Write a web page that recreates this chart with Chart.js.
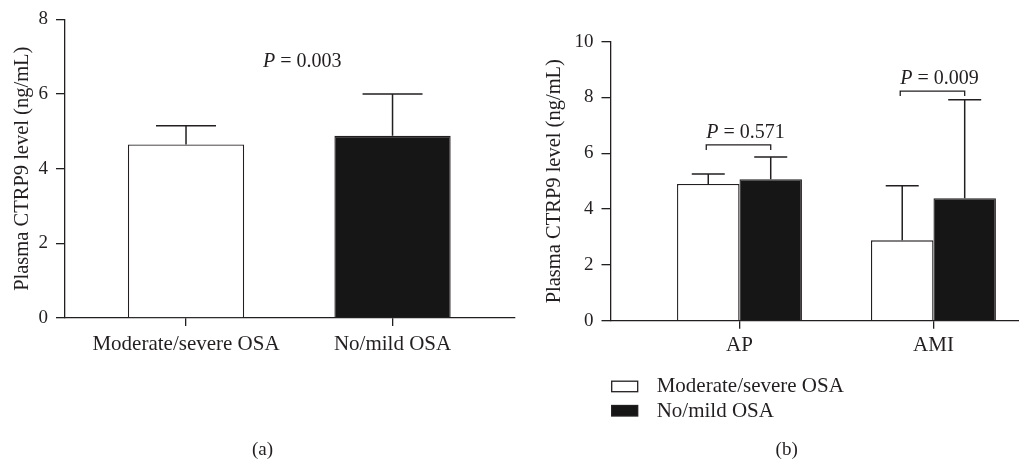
<!DOCTYPE html>
<html><head><meta charset="utf-8">
<script src="https://cdn.jsdelivr.net/npm/chart.js@4.4.1/dist/chart.umd.min.js"></script>
<style>
html,body{margin:0;padding:0;background:#fff;}
#wrap{position:relative;width:1019px;height:460px;overflow:hidden;background:#fff;}
canvas{position:absolute;top:0;}
</style></head><body>
<div id="wrap">
<canvas id="ca" width="520" height="460" style="left:0;width:520px;height:460px"></canvas>
<canvas id="cb" width="499" height="460" style="left:520px;width:499px;height:460px"></canvas>
</div>
<script>
// ---------- Panel (a) data ----------
const catsA = ['Moderate/severe OSA', 'No/mild OSA'];
const meanA = [4.65, 4.88];
const sdA = [0.50, 1.12];
const yTicksA = [0, 2, 4, 6, 8];
const pValueA = '0.003';

// ---------- Panel (b) data ----------
const catsB = ['AP', 'AMI'];
const seriesNames = ['Moderate/severe OSA', 'No/mild OSA'];
const meanModSev = [4.90, 2.88];
const sdModSev = [0.36, 1.96];
const meanNoMild = [5.07, 4.39];
const sdNoMild = [0.80, 3.53];
const yTicksB = [0, 2, 4, 6, 8, 10];
const pValuesB = ['0.571', '0.009'];
const bracketLevelB = [6.30, 8.23];

const FONT = "'Liberation Serif', 'DejaVu Serif', serif";
const TXT = '#231f20';
const AX = '#231f20';
const BLACK = '#161616';
const Y_TITLE = 'Plasma CTRP9 level (ng/mL)';

function drawP(ctx, x, y, p, size) {
  ctx.save();
  ctx.fillStyle = TXT;
  ctx.textBaseline = 'middle';
  ctx.textAlign = 'left';
  ctx.font = 'italic ' + size + 'px ' + FONT;
  ctx.fillText('P', x, y);
  const w = ctx.measureText('P').width;
  ctx.font = size + 'px ' + FONT;
  ctx.fillText(' = ' + p, x + w, y);
  ctx.restore();
}

const errorBars = {
  id: 'errorBars',
  afterDatasetsDraw(chart, args, opts) {
    const ctx = chart.ctx, ys = chart.scales.y;
    ctx.save();
    ctx.strokeStyle = AX;
    ctx.lineWidth = 1.5;
    chart.data.datasets.forEach((ds, di) => {
      const meta = chart.getDatasetMeta(di);
      meta.data.forEach((bar, i) => {
        const v = ds.data[i].y + ds.errors[i];
        const top = ys.getPixelForValue(v);
        ctx.beginPath();
        ctx.moveTo(bar.x, bar.y);
        ctx.lineTo(bar.x, top);
        ctx.moveTo(bar.x - opts.cap, top);
        ctx.lineTo(bar.x + opts.cap, top);
        ctx.stroke();
      });
    });
    ctx.restore();
  }
};

const caption = {
  id: 'caption',
  afterDraw(chart, args, opts) {
    const ctx = chart.ctx;
    ctx.save();
    ctx.fillStyle = TXT;
    ctx.font = '19px ' + FONT;
    ctx.textAlign = 'center';
    ctx.textBaseline = 'middle';
    ctx.fillText(opts.text, opts.x, opts.y);
    ctx.restore();
  }
};

function yScale(ticksArr, width, titlePad) {
  return {
    min: ticksArr[0], max: ticksArr[ticksArr.length - 1],
    afterBuildTicks: s => { s.ticks = ticksArr.map(v => ({value: v})); },
    afterFit: s => { s.width = width; },
    border: {display: true, color: AX, width: 1.3},
    grid: {drawOnChartArea: false, drawTicks: true, tickLength: 9, color: AX, lineWidth: 1.3},
    ticks: {font: {family: FONT, size: 19}, color: TXT, padding: 8},
    title: {display: true, text: Y_TITLE, font: {family: FONT, size: 20.5}, color: TXT,
            padding: {top: titlePad, bottom: 0}}
  };
}

function xScale(cats, min, max, pad) {
  return {
    type: 'linear', min: min, max: max, offset: false,
    afterBuildTicks: s => { s.ticks = cats.map((c, i) => ({value: i})); },
    afterFit: s => { s.height = 50; },
    border: {display: true, color: AX, width: 1.3},
    grid: {offset: false, drawOnChartArea: false, drawTicks: true, tickLength: 8, color: AX, lineWidth: 1.3},
    ticks: {callback: v => cats[v], font: {family: FONT, size: 21}, color: TXT, padding: pad,
            maxRotation: 0, minRotation: 0, autoSkip: false}
  };
}

// ---------- Chart (a) ----------
const pA = {
  id: 'pA',
  afterDraw(chart, args, opts) {
    const x = chart.scales.x.getPixelForValue(opts.x);
    const y = chart.scales.y.getPixelForValue(opts.y);
    drawP(chart.ctx, x, y, pValueA, 20);
  }
};

new Chart(document.getElementById('ca'), {
  type: 'bar',
  data: {
    datasets: [{
      label: 'Plasma CTRP9',
      data: catsA.map((c, i) => ({x: i, y: meanA[i]})),
      errors: sdA,
      backgroundColor: ['#ffffff', BLACK],
      borderColor: AX,
      borderWidth: 1.3,
      categoryPercentage: 0.563,
      barPercentage: 1.0
    }]
  },
  options: {
    responsive: false, animation: false, devicePixelRatio: 1,
    layout: {padding: {left: 0, top: 19, right: 5, bottom: 92}},
    scales: {x: xScale(catsA, -0.586, 1.593, 6), y: yScale(yTicksA, 65, 10.5)},
    plugins: {
      legend: {display: false}, tooltip: {enabled: false},
      errorBars: {cap: 30},
      pA: {x: 0.373, y: 6.86},
      caption: {text: '(a)', x: 262.5, y: 450}
    }
  },
  plugins: [errorBars, pA, caption]
});

// ---------- Chart (b) ----------
const bracketsB = {
  id: 'bracketsB',
  afterDraw(chart, args, opts) {
    const ctx = chart.ctx, ys = chart.scales.y;
    const m0 = chart.getDatasetMeta(0), m1 = chart.getDatasetMeta(1);
    ctx.save();
    ctx.strokeStyle = AX;
    ctx.lineWidth = 1.3;
    catsB.forEach((c, i) => {
      const x0 = m0.data[i].x - 2, x1 = m1.data[i].x;
      const y = ys.getPixelForValue(bracketLevelB[i]);
      ctx.beginPath();
      ctx.moveTo(x0, y + opts.drop);
      ctx.lineTo(x0, y);
      ctx.lineTo(x1, y);
      ctx.lineTo(x1, y + opts.drop);
      ctx.stroke();
      drawP(ctx, x0, y - opts.gap, pValuesB[i], 20);
    });
    ctx.restore();
  }
};

const legendB = {
  id: 'legendB',
  afterDraw(chart, args, opts) {
    const ctx = chart.ctx;
    ctx.save();
    chart.data.datasets.forEach((ds, i) => {
      const by = opts.y + i * opts.step;
      ctx.fillStyle = ds.backgroundColor;
      ctx.fillRect(opts.x, by, opts.w, opts.h);
      ctx.strokeStyle = AX;
      ctx.lineWidth = 1.3;
      ctx.strokeRect(opts.x, by, opts.w, opts.h);
      ctx.fillStyle = TXT;
      ctx.font = '21px ' + FONT;
      ctx.textAlign = 'left';
      ctx.textBaseline = 'middle';
      ctx.fillText(ds.label, opts.textX, by + opts.h / 2 + 0.5);
    });
    ctx.restore();
  }
};

new Chart(document.getElementById('cb'), {
  type: 'bar',
  data: {
    datasets: [{
      label: seriesNames[0],
      data: catsB.map((c, i) => ({x: i, y: meanModSev[i]})),
      errors: sdModSev,
      backgroundColor: '#ffffff',
      borderColor: AX, borderWidth: 1.3,
      categoryPercentage: 0.644, barPercentage: 1.0
    }, {
      label: seriesNames[1],
      data: catsB.map((c, i) => ({x: i, y: meanNoMild[i]})),
      errors: sdNoMild,
      backgroundColor: BLACK,
      borderColor: AX, borderWidth: 1.3,
      categoryPercentage: 0.644, barPercentage: 1.0
    }]
  },
  options: {
    responsive: false, animation: false, devicePixelRatio: 1,
    layout: {padding: {left: 0, top: 41.7, right: 0, bottom: 89.3}},
    scales: {x: xScale(catsB, -0.665, 1.441, 4.5), y: yScale(yTicksB, 90.5, 22)},
    plugins: {
      legend: {display: false}, tooltip: {enabled: false},
      errorBars: {cap: 16.5},
      bracketsB: {drop: 5, gap: 12.5},
      legendB: {x: 91.7, y: 381.2, w: 26, h: 10.5, step: 24.3, textX: 136.7},
      caption: {text: '(b)', x: 266.7, y: 450}
    }
  },
  plugins: [errorBars, bracketsB, legendB, caption]
});
</script>
</body></html>
